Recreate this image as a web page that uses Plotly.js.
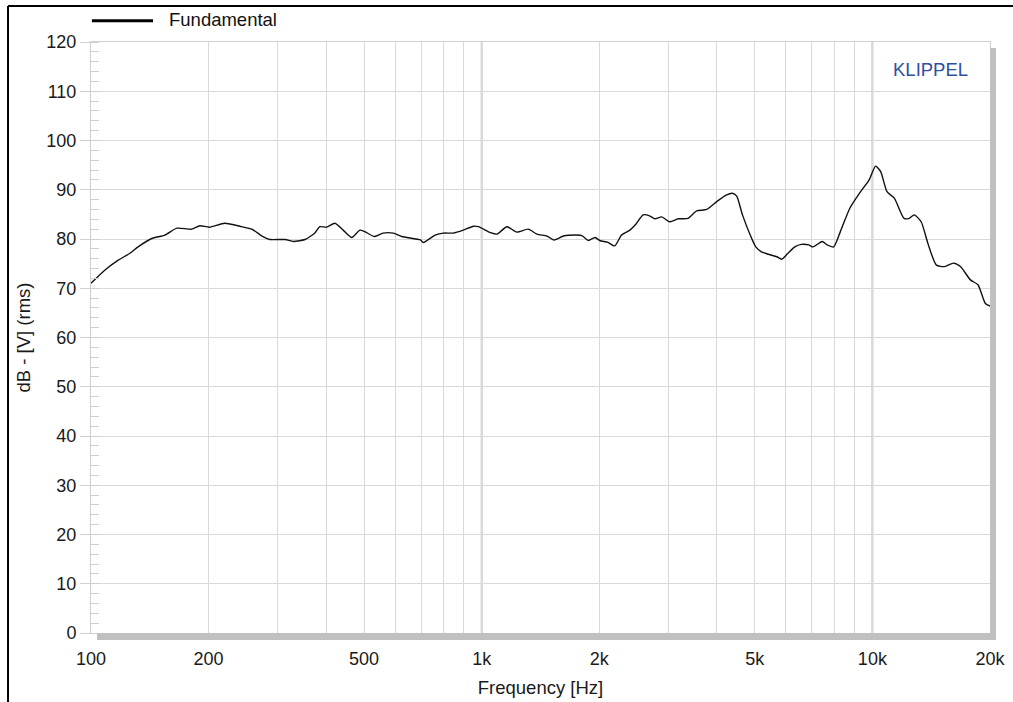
<!DOCTYPE html>
<html>
<head>
<meta charset="utf-8">
<script src="https://cdn.plot.ly/plotly-3.0.1.min.js"></script>
<style>html,body{margin:0;padding:0;background:#fff;}#chart{width:1013px;height:702px;}</style>
</head>
<body>
<div id="chart"></div>
<script>
// Frequency response, Fundamental (Hz, dB)
const freq = [100,108.6,117.4,125.8,132,143,154.6,165.9,181,190,201,220,243,258,274,287,314,330,353,374,
  385,401,421,442,465,488,502,532,559,594,624,697,709,760,798,846,897,953,981,1053,1095,1160,1230,1315,1385,
  1470,1530,1620,1750,1805,1875,1950,2005,2105,2190,2280,2395,2480,2590,2690,2775,2890,3025,3185,3375,3550,
  3765,3995,4225,4380,4495,4650,4910,5030,5200,5410,5690,5860,6080,6330,6580,6870,7050,7440,7660,7960,8280,
  8750,9270,9810,10190,10500,10900,11380,12050,12420,12800,13330,13870,14580,15300,16140,16800,17820,18630,
  19460,20000];
const fundamental = [71.0,73.7,75.7,77.1,78.4,80.1,80.8,82.2,82.0,82.7,82.4,83.2,82.5,82.0,80.6,79.9,79.9,79.5,79.9,81.2,
  82.5,82.4,83.2,81.8,80.3,81.8,81.5,80.5,81.2,81.2,80.5,79.8,79.3,80.8,81.2,81.2,81.8,82.6,82.5,81.3,81.0,82.5,81.4,82.0,81.0,
  80.6,79.8,80.6,80.8,80.7,79.7,80.3,79.7,79.3,78.6,80.8,81.8,83.0,84.9,84.7,84.1,84.5,83.5,84.1,84.2,85.7,
  86.0,87.6,88.9,89.3,88.7,84.9,80.1,78.4,77.4,76.9,76.4,75.9,77.1,78.4,78.9,78.8,78.4,79.5,78.8,78.4,81.5,
  86.2,89.3,92.0,94.8,93.7,89.6,88.3,84.2,84.2,84.9,83.5,79.1,74.7,74.4,75.1,74.4,71.7,70.7,
  66.9,66.4];

const xTickVals = [100,200,500,1000,2000,5000,10000,20000];
const xTickText = ['100','200','500','1k','2k','5k','10k','20k'];
const xMinorVals = [300,400,600,700,800,900,3000,4000,6000,7000,8000,9000];
const decadeLines = [1000,10000];
const seriesName = 'Fundamental';

const gridColor = '#d9d9d9';
const shapes = [];
decadeLines.forEach(v => shapes.push({type:'line', xref:'x', yref:'paper', x0:v, x1:v, y0:0, y1:1,
  line:{color:'#c8c8c8', width:2}, layer:'below'}));
// drop shadow of the plot area
shapes.push({type:'rect', xref:'paper', yref:'paper', x0:1.0, x1:1.0067, y0:-0.0118, y1:0.99,
  fillcolor:'#c0c0c0', line:{width:0}});
shapes.push({type:'rect', xref:'paper', yref:'paper', x0:0.0067, x1:1.0067, y0:-0.0118, y1:0,
  fillcolor:'#c0c0c0', line:{width:0}});
// outer frame (top and left)
shapes.push({type:'line', xref:'paper', yref:'paper', x0:-0.0923, x1:1.03, y0:1.0609, y1:1.0609,
  line:{color:'#000', width:2}});
shapes.push({type:'line', xref:'paper', yref:'paper', x0:-0.0923, x1:-0.0923, y0:1.0609, y1:-0.12,
  line:{color:'#000', width:2}});
// legend symbol
shapes.push({type:'line', xref:'paper', yref:'paper', x0:0.001, x1:0.069, y0:1.036, y1:1.036,
  line:{color:'#000', width:3}});

const data = [{
  x: freq, y: fundamental, type:'scatter', mode:'lines', name: seriesName,
  line:{color:'#111', width:1.4, shape:'spline', smoothing:0.6}, showlegend:false
}];

const layout = {
  width:1013, height:702,
  margin:{l:91, r:23, t:42, b:69},
  paper_bgcolor:'#fff', plot_bgcolor:'#fff',
  font:{family:'Liberation Sans, Arial, sans-serif', color:'#1a1a1a', size:18},
  showlegend:false,
  xaxis:{
    type:'log', range:[2, Math.log10(20000)],
    tickvals:xTickVals, ticktext:xTickText,
    showgrid:true, gridcolor:gridColor, gridwidth:1,
    ticks:'', ticklabelstandoff:9,
    tickfont:{size:18},
    showline:true, linecolor:'#d0d0d0', linewidth:1, mirror:true,
    zeroline:false,
    minor:{tickvals:xMinorVals, showgrid:true, gridcolor:gridColor, gridwidth:1, ticks:''},
    title:{text:'Frequency [Hz]', font:{size:18.5}, standoff:13}
  },
  yaxis:{
    range:[0,120], dtick:10, tick0:0,
    showgrid:true, gridcolor:gridColor, gridwidth:1,
    ticks:'outside', ticklen:10, tickcolor:'#cfcfcf',
    tickfont:{size:18},
    showline:true, linecolor:'#d0d0d0', linewidth:1, mirror:true,
    zeroline:false,
    minor:{dtick:2, ticks:'inside', ticklen:8, tickcolor:'#d0d0d0', showgrid:false},
    title:{text:'dB - [V] (rms)', font:{size:18.5}, standoff:10}
  },
  shapes: shapes,
  annotations:[
    {xref:'paper', yref:'paper', x:0.084, y:1.038, text:seriesName, showarrow:false,
      xanchor:'left', yanchor:'middle', font:{size:18.5, color:'#111'}},
    {xref:'paper', yref:'paper', x:0.9335, y:0.953, text:'KLIPPEL', showarrow:false,
      xanchor:'center', yanchor:'middle', font:{size:18.5, color:'#2f4f9f'}}
  ]
};

Plotly.newPlot('chart', data, layout, {displayModeBar:false, staticPlot:true});
</script>
</body>
</html>
